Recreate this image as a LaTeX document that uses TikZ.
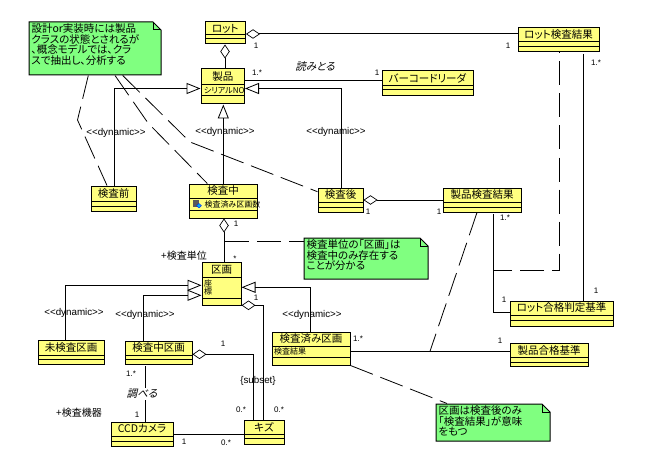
\documentclass[tikz,border=0pt]{standalone}
\usepackage{fontspec}
\setmainfont{Noto Sans CJK JP}[RawFeature=+palt]
\newfontfamily\latinfont{Liberation Sans}
\newfontfamily\slantfont[FakeSlant=0.25,RawFeature=+palt]{Noto Sans CJK JP}
\usetikzlibrary{arrows.meta}
\usetikzlibrary{fit}
\usetikzlibrary{calc}
\definecolor{classyellow}{HTML}{FFFF80}
\definecolor{notegreen}{HTML}{80FF80}
\tikzset{
    every picture/.style={x=1pt,y=-1pt,line width=1pt},
    classbox/.style={draw,fill=classyellow,inner sep=0pt},
    notebody/.style={inner sep=0pt},
    classname/.style={font=\fontsize{10.5}{10}\selectfont,inner sep=0pt},
    attr/.style={font=\fontsize{8}{8}\selectfont,inner sep=0pt,anchor=west},
    notetext/.style={font=\fontsize{10.5}{10.7}\selectfont,inner sep=0pt,anchor=north west,align=left},
    mult/.style={font=\latinfont\fontsize{8}{8}\selectfont,inner sep=0pt},
    stereo/.style={font=\latinfont\fontsize{9.8}{10}\selectfont,inner sep=0pt},
    rolename/.style={font=\fontsize{10}{10}\selectfont,inner sep=0pt},
    verbname/.style={font=\slantfont\fontsize{10.5}{10}\selectfont,inner sep=0pt},
    inherit/.style={-{Triangle[open,length=14pt,width=11pt,line width=.8pt]}},
    aggr/.style={{Diamond[open,length=14pt,width=9.5pt,line width=.7pt]}-},
    notelink/.style={line width=.8pt,dash pattern=on 24pt off 8pt}}

% name, left, top, right, bottom, first rule, second rule, title
\newcommand{\umlclass}[8]{
    \node[classbox,fit={(#2,#3) (#4,#5)}] (#1) {};
    \draw (#2,#6) -- (#4,#6) (#2,#7) -- (#4,#7);
    \node[classname] (#1-name) at ($(#2,#3)!.5!(#4,#6)$) {#8};}
% name, left, top, right, bottom, text
\newcommand{\umlnote}[6]{
    \node[notebody,fit={(#2,#3) (#4,#5)}] (#1) {};
    \draw[fill=notegreen] (#2,#3) -- ($(#4,#3)+(-8,0)$) -- ($(#4,#3)+(0,8)$) -- (#4,#5) -- (#2,#5) -- cycle;
    \draw ($(#4,#3)+(-8,0)$) |- ($(#4,#3)+(0,8)$);
    \node[notetext] (#1-text) at ($(#2,#3)+(2,1)$) {#6};}

\begin{document}
\begin{tikzpicture}
    \useasboundingbox (0,0) rectangle (645,468);

    % notes
    \umlnote{noteState}{29}{22}{161}{75}{設計or実装時には製品\\クラスの状態とされるが\\、概念モデルでは、クラ\\スで抽出し、分析する}
    \umlnote{noteUnit}{304}{238}{428}{279}{検査単位の「区画」は\\検査中のみ存在する\\ことが分かる}
    \umlnote{noteResult}{436}{404}{550}{441}{区画は検査後のみ\\「検査結果」が意味\\をもつ}

    % classes
    \umlclass{lot}{205}{22}{245.5}{44}{35}{39}{ロット}
    \umlclass{product}{201}{69}{244.5}{104}{85}{96}{製品}
    \umlclass{before}{91}{186}{136}{211}{201}{206}{検査前}
    \umlclass{during}{189}{184}{257}{218}{198}{210}{検査中}
    \umlclass{after}{318}{188}{363}{212}{202}{207}{検査後}
    \umlclass{productResult}{443}{188}{521}{212}{202}{207}{製品検査結果}
    \umlclass{lotResult}{518}{28}{599}{52}{42}{47}{ロット検査結果}
    \umlclass{reader}{382}{71}{473}{96}{86}{90}{バーコードリーダ}
    \umlclass{area}{202}{262}{241}{305}{277}{298}{区画}
    \umlclass{areaTodo}{38}{340}{104}{364}{355}{359}{未検査区画}
    \umlclass{areaDoing}{125}{341}{192}{364}{355}{359}{検査中区画}
    \umlclass{areaDone}{272}{332}{350}{365}{346}{357}{検査済み区画}
    \umlclass{flaw}{244}{420}{284}{444}{434}{438}{キズ}
    \umlclass{camera}{111}{422}{173}{446}{436}{441}{CCDカメラ}
    \umlclass{lotCriteria}{510}{301}{613}{326}{315}{320}{ロット合格判定基準}
    \umlclass{productCriteria}{510}{343}{588}{366}{357}{362}{製品合格基準}

    % attributes
    \node[attr] (serial) at (203.5,90.5) {シリアルNO};
    \node[attr] (count) at (204,204) {検査済み区画数};
    \node[attr] (pos1) at (203.5,283) {座};
    \node[attr] (pos2) at (203.5,291) {標};
    \node[attr] (resultAttr) at (273.5,351.5) {検査結果};
    \fill[gray!70!black] (192.5,200) rectangle (198.5,206.5);
    \fill[cyan,draw=blue,line width=.3pt] (199,203.5) -- (201.5,205.7) -- (199,208) -- (196.5,205.7) -- cycle;

    % associations
    \draw[aggr] (lot.east |- 0,34) -- (lotResult.west |- 0,34);
    \draw[aggr] (lot.south -| 225,0) -- (product.north -| 225,0);
    \draw (product.east |- 0,81) -- (reader.west |- 0,81);
    \draw[aggr] (after.east |- 0,200) -- (productResult.west |- 0,200);
    \draw (493,214) |- (lotCriteria.west |- 0,312.5);
    \draw (583,54) -- (lotCriteria.north -| 583,0);
    \draw[aggr] (during.south -| 224,0) -- (area.north -| 224,0);
    \draw[aggr] (area.east |- 0,305.3) -| (flaw.north -| 263.3,0);
    \draw[aggr] (areaDoing.east |- 0,354.3) -| (flaw.north -| 253.3,0);
    \draw (145.3,366) -- (camera.north -| 145.3,0);
    \draw (174,434.3) -- (flaw.west |- 0,434.3);
    \draw (351,351.3) -- (productCriteria.west |- 0,351.3);

    % generalizations
    \draw[inherit] (before.north -| 114.7,0) |- (product.west |- 0,88.5);
    \draw[inherit] (during.north -| 223.3,0) -- (product.south -| 223.3,0);
    \draw[inherit] (after.north -| 341.7,0) |- (product.east |- 0,88.5);
    \draw[inherit] (areaTodo.north -| 65.3,0) |- (area.west |- 0,285.3);
    \draw[inherit] (areaDoing.north -| 143.3,0) |- (area.west |- 0,295.3);
    \draw[inherit] (areaDone.north -| 310.3,0) |- (area.east |- 0,287.3);

    % note links
    \coordinate (bendBefore) at (77.5,120);
    \coordinate (bendDuring) at (148,123);
    \coordinate (bendAfter) at (190,142);
    \coordinate (critMid) at (430,351.3);
    \coordinate (resultKnee) at (559.3,270.3);
    \coordinate (assocKnee) at (493.3,270.3);
    \coordinate (unitStart) at (225,241.3);
    \draw[notelink] (noteState.south -| 88.3,0) -- (bendBefore) -- (before.north -| 107,0);
    \draw[notelink] (noteState.south -| 115,0) -- (bendDuring) -- (during.north -| 207.3,0);
    \draw[notelink] (noteState.south -| 122.7,0) -- (bendAfter) -- (after.west |- 0,191.7);
    \draw[notelink,dash phase=23pt] (lotResult.south -| 559.3,0) -- (resultKnee) -- (assocKnee);
    \draw[notelink] (productResult.south -| 477,0) -- (critMid);
    \draw[notelink] (unitStart) -- (noteUnit.west |- unitStart);
    \draw[notelink] (areaDone.south east) -- (noteResult.north -| 447,0);

    % multiplicities
    \node[mult] (m1) at (256,46) {1};
    \node[mult] (m2) at (257,73) {1.*};
    \node[mult] (m3) at (377,73) {1};
    \node[mult] (m4) at (508,46) {1};
    \node[mult] (m5) at (596,63) {1.*};
    \node[mult] (m6) at (368,212) {1};
    \node[mult] (m7) at (439,212) {1};
    \node[mult] (m8) at (505,218) {1.*};
    \node[mult] (m9) at (236,224) {1};
    \node[mult] (m10) at (235,259) {*};
    \node[mult] (m11) at (256,298) {1};
    \node[mult] (m12) at (223,344) {1};
    \node[mult] (m13) at (131,374) {1.*};
    \node[mult] (m14) at (137,415) {1};
    \node[mult] (m15) at (241,410) {0.*};
    \node[mult] (m16) at (279,410) {0.*};
    \node[mult] (m17) at (184,442) {1};
    \node[mult] (m18) at (226,443) {0.*};
    \node[mult] (m19) at (358,339) {1.*};
    \node[mult] (m20) at (500,341) {1};
    \node[mult] (m21) at (504,300) {1};
    \node[mult] (m22) at (596,291) {1};

    % stereotypes and names
    \node[stereo] (dyn1) at (116,133) {<<dynamic>>};
    \node[stereo] (dyn2) at (225,132) {<<dynamic>>};
    \node[stereo] (dyn3) at (336,132) {<<dynamic>>};
    \node[stereo] (dyn4) at (74,313) {<<dynamic>>};
    \node[stereo] (dyn5) at (145,315) {<<dynamic>>};
    \node[stereo] (dyn6) at (312,315) {<<dynamic>>};
    \node[stereo] (subset) at (258,381) {\{subset\}};
    \node[verbname] (reads) at (315,67) {読みとる};
    \node[verbname,fill=white,inner ysep=1pt] (checks) at (142,394) {調べる};
    \node[rolename] (unitRole) at (184,256) {+検査単位};
    \node[rolename] (deviceRole) at (79,413) {+検査機器};
\end{tikzpicture}
\end{document}
